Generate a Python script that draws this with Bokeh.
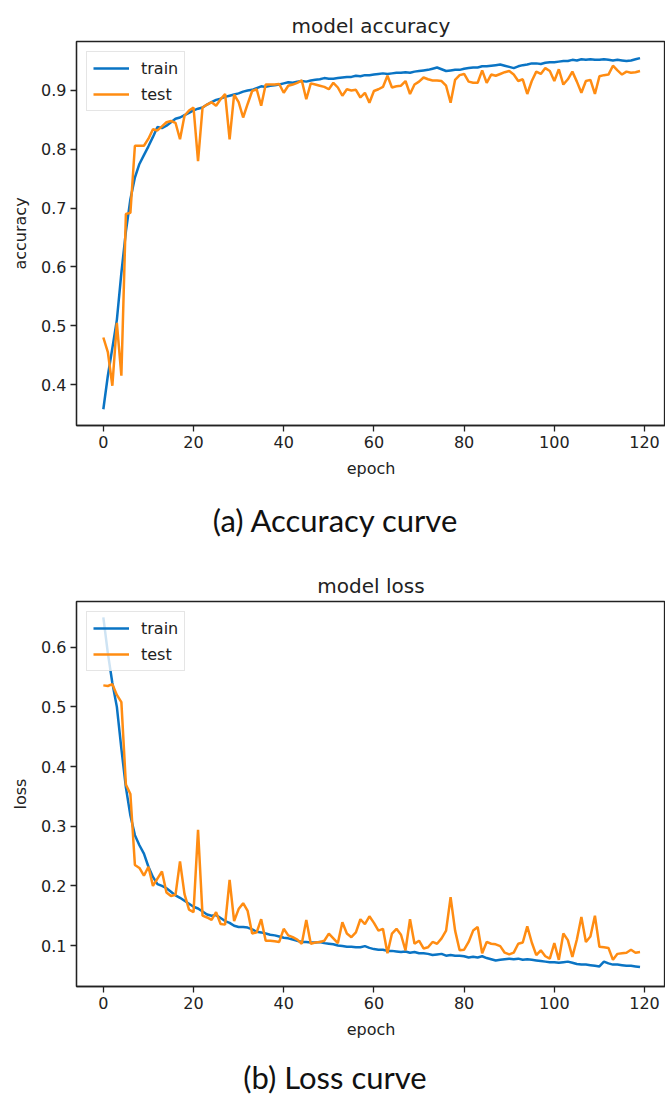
from bokeh.plotting import figure
from bokeh.models import Range1d, FixedTicker, PrintfTickFormatter, Legend, LegendItem, Div
from bokeh.layouts import column
from bokeh.embed import file_html
from bokeh.resources import INLINE

epochs = list(range(120))

acc_train = [0.358, 0.415, 0.462, 0.510, 0.590, 0.660, 0.715, 0.752, 0.775, 0.790,
             0.805, 0.821, 0.838, 0.836, 0.840, 0.846, 0.852, 0.854, 0.858, 0.862,
             0.866, 0.869, 0.871, 0.876, 0.880, 0.884, 0.886, 0.889, 0.891, 0.893,
             0.895, 0.898, 0.900, 0.901, 0.904, 0.907, 0.906, 0.908, 0.909, 0.910,
             0.912, 0.914, 0.913, 0.915, 0.916, 0.915, 0.917, 0.918, 0.919, 0.921,
             0.920, 0.920, 0.921, 0.922, 0.923, 0.923, 0.925, 0.924, 0.926, 0.926,
             0.927, 0.928, 0.929, 0.928, 0.929, 0.930, 0.930, 0.931, 0.930, 0.932,
             0.933, 0.934, 0.935, 0.937, 0.939, 0.936, 0.933, 0.934, 0.935, 0.935,
             0.937, 0.938, 0.939, 0.939, 0.941, 0.941, 0.942, 0.943, 0.944, 0.942,
             0.940, 0.938, 0.941, 0.943, 0.944, 0.946, 0.946, 0.945, 0.947, 0.948,
             0.948, 0.949, 0.950, 0.950, 0.952, 0.951, 0.953, 0.952, 0.953, 0.952,
             0.952, 0.953, 0.952, 0.951, 0.952, 0.951, 0.950, 0.951, 0.953, 0.955]

acc_test = [0.480, 0.455, 0.398, 0.505, 0.415, 0.690, 0.692, 0.806, 0.806, 0.806,
            0.818, 0.834, 0.832, 0.839, 0.846, 0.848, 0.845, 0.817, 0.857, 0.866,
            0.871, 0.780, 0.871, 0.876, 0.880, 0.874, 0.885, 0.894, 0.817, 0.893,
            0.880, 0.854, 0.877, 0.899, 0.902, 0.874, 0.910, 0.910, 0.910, 0.911,
            0.896, 0.908, 0.910, 0.913, 0.917, 0.885, 0.912, 0.910, 0.908, 0.906,
            0.902, 0.913, 0.905, 0.891, 0.902, 0.900, 0.901, 0.888, 0.896, 0.879,
            0.899, 0.902, 0.906, 0.925, 0.905, 0.907, 0.908, 0.916, 0.894, 0.910,
            0.915, 0.922, 0.919, 0.917, 0.917, 0.916, 0.908, 0.879, 0.918, 0.926,
            0.928, 0.915, 0.913, 0.913, 0.934, 0.913, 0.927, 0.925, 0.928, 0.931,
            0.933, 0.927, 0.916, 0.919, 0.894, 0.916, 0.932, 0.928, 0.938, 0.933,
            0.916, 0.936, 0.910, 0.919, 0.932, 0.915, 0.896, 0.916, 0.918, 0.894,
            0.924, 0.926, 0.927, 0.942, 0.934, 0.927, 0.932, 0.930, 0.931, 0.933]

loss_train = [0.650, 0.590, 0.540, 0.500, 0.430, 0.365, 0.318, 0.285, 0.268, 0.254,
              0.232, 0.215, 0.203, 0.200, 0.196, 0.190, 0.184, 0.180, 0.175, 0.170,
              0.165, 0.162, 0.157, 0.152, 0.150, 0.151, 0.146, 0.141, 0.138, 0.133,
              0.131, 0.131, 0.130, 0.127, 0.123, 0.122, 0.120, 0.118, 0.117, 0.115,
              0.113, 0.112, 0.110, 0.108, 0.106, 0.106, 0.105, 0.105, 0.106, 0.104,
              0.103, 0.102, 0.100, 0.099, 0.098, 0.098, 0.097, 0.097, 0.099, 0.096,
              0.094, 0.093, 0.093, 0.091, 0.091, 0.090, 0.089, 0.090, 0.088, 0.089,
              0.087, 0.087, 0.086, 0.084, 0.085, 0.086, 0.083, 0.084, 0.083, 0.083,
              0.082, 0.080, 0.081, 0.080, 0.082, 0.079, 0.077, 0.075, 0.076, 0.077,
              0.078, 0.077, 0.078, 0.076, 0.077, 0.076, 0.075, 0.074, 0.073, 0.072,
              0.072, 0.071, 0.072, 0.073, 0.071, 0.069, 0.068, 0.068, 0.067, 0.066,
              0.065, 0.073, 0.070, 0.068, 0.068, 0.067, 0.066, 0.066, 0.065, 0.064]

loss_test = [0.536, 0.535, 0.538, 0.520, 0.508, 0.370, 0.354, 0.235, 0.230, 0.217,
             0.232, 0.200, 0.212, 0.224, 0.189, 0.183, 0.185, 0.241, 0.186, 0.160,
             0.156, 0.294, 0.150, 0.147, 0.143, 0.156, 0.136, 0.135, 0.210, 0.141,
             0.161, 0.171, 0.158, 0.120, 0.122, 0.144, 0.108, 0.108, 0.107, 0.106,
             0.128, 0.117, 0.114, 0.110, 0.103, 0.143, 0.103, 0.105, 0.106, 0.108,
             0.120, 0.112, 0.104, 0.139, 0.120, 0.114, 0.122, 0.144, 0.136, 0.149,
             0.138, 0.125, 0.128, 0.087, 0.120, 0.128, 0.118, 0.092, 0.144, 0.103,
             0.108, 0.095, 0.097, 0.106, 0.103, 0.112, 0.125, 0.181, 0.125, 0.092,
             0.093, 0.106, 0.125, 0.131, 0.087, 0.106, 0.103, 0.102, 0.099, 0.088,
             0.085, 0.088, 0.103, 0.105, 0.132, 0.105, 0.084, 0.092, 0.082, 0.078,
             0.104, 0.076, 0.120, 0.109, 0.081, 0.110, 0.148, 0.106, 0.115, 0.150,
             0.098, 0.097, 0.096, 0.076, 0.086, 0.087, 0.088, 0.093, 0.088, 0.089]

x_ticks = [0, 20, 40, 60, 80, 100, 120]
acc_ticks = [0.4, 0.5, 0.6, 0.7, 0.8, 0.9]
loss_ticks = [0.1, 0.2, 0.3, 0.4, 0.5, 0.6]
series_labels = ["train", "test"]
titles = ["model accuracy", "model loss"]
ylabels = ["accuracy", "loss"]
captions = ["(a) Accuracy curve", "(b) Loss curve"]

BLUE = "#0a74c4"
ORANGE = "#ff8c12"
INK = "#222222"
FONT = "DejaVu Sans"
W = 665


def make_fig(title, ylabel, yr, yticks, train, test, height, top):
    p = figure(width=W, height=height, output_backend="svg", toolbar_location=None,
               x_range=Range1d(-5.95, 124.65), y_range=Range1d(*yr),
               min_border_left=76, min_border_right=0, min_border_top=top,
               min_border_bottom=55)
    p.title.text = title
    p.title.align = "center"
    p.title.text_font = FONT
    p.title.text_font_size = "20px"
    p.title.text_font_style = "normal"
    p.title.text_color = INK
    p.title.standoff = 8
    p.grid.visible = False
    p.background_fill_color = "white"
    p.border_fill_color = "white"
    p.outline_line_color = INK
    p.outline_line_width = 1.3
    p.outline_line_alpha = 1.0
    p.xaxis.ticker = FixedTicker(ticks=x_ticks)
    p.xaxis.formatter = PrintfTickFormatter(format="%d")
    p.yaxis.ticker = FixedTicker(ticks=yticks)
    p.yaxis.formatter = PrintfTickFormatter(format="%.1f")
    p.xaxis.axis_label = "epoch"
    p.yaxis.axis_label = ylabel
    for ax in p.axis:
        ax.minor_tick_line_color = None
        ax.major_tick_out = 6
        ax.major_tick_in = 0
        ax.major_tick_line_width = 1.3
        ax.major_tick_line_color = INK
        ax.axis_line_width = 1.3
        ax.axis_line_color = INK
        ax.major_label_text_font = FONT
        ax.major_label_text_font_size = "16px"
        ax.major_label_text_color = INK
        ax.major_label_standoff = 4
        ax.axis_label_text_font = FONT
        ax.axis_label_text_font_size = "16px"
        ax.axis_label_text_font_style = "normal"
        ax.axis_label_text_color = INK
        ax.axis_label_standoff = 8
    r1 = p.line(epochs, train, line_color=BLUE, line_width=2.5)
    r2 = p.line(epochs, test, line_color=ORANGE, line_width=2.5)
    leg = Legend(items=[LegendItem(label=series_labels[0], renderers=[r1]),
                        LegendItem(label=series_labels[1], renderers=[r2])],
                 location="top_left", margin=10, padding=6, spacing=6,
                 glyph_width=36, glyph_height=20, label_height=20,
                 label_standoff=12, label_text_font=FONT,
                 label_text_font_size="16px", label_text_color=INK,
                 border_line_color="#cccccc", border_line_width=1,
                 background_fill_alpha=0.8)
    p.add_layout(leg)
    return p


def caption(text, height, top):
    html = ('<div style="position:relative;top:%dpx;left:5px;width:%dpx;text-align:center;'
            'font-family:Lato;font-size:31px;line-height:36px;color:#111">%s</div>'
            % (top, W - 5, text))
    return Div(text=html, width=W, height=height, margin=(0, 0, 0, 0),
               styles={"overflow": "hidden"})


p1 = make_fig(titles[0], ylabels[0], (0.3304, 0.9832), acc_ticks, acc_train, acc_test, 480, 41)
p2 = make_fig(titles[1], ylabels[1], (0.0313, 0.6766), loss_ticks, loss_train, loss_test, 478, 38)

layout = column(p1, caption(captions[0], 83, 22), p2, caption(captions[1], 54, 18), spacing=0)

open("out.html", "w").write(file_html(layout, INLINE))
